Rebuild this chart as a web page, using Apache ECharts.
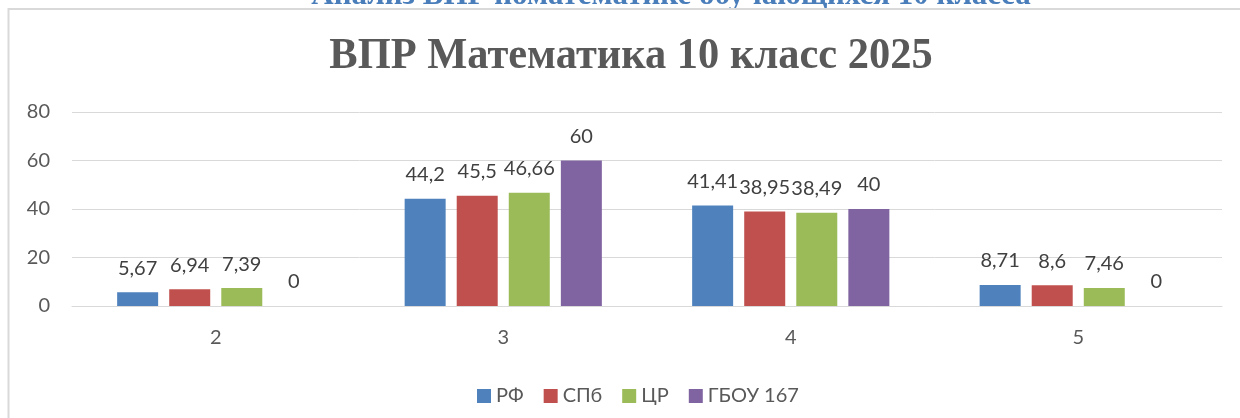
<!DOCTYPE html>
<html>
<head>
<meta charset="utf-8">
<title>ВПР Математика 10 класс 2025</title>
<script src="https://cdn.jsdelivr.net/npm/echarts@6/dist/echarts.min.js"></script>
<style>
  html, body { margin: 0; padding: 0; background: #ffffff; }
  #chart { width: 1240px; height: 418px; }
</style>
</head>
<body>
<div id="chart"></div>
<script>
// Grades (categories) and share of students per grade, %
const categories = ['2', '3', '4', '5'];
const seriesNames = ['РФ', 'СПб', 'ЦР', 'ГБОУ 167'];
const rf   = [5.67, 44.2, 41.41, 8.71];
const spb  = [6.94, 45.5, 38.95, 8.6];
const cr   = [7.39, 46.66, 38.49, 7.46];
const gbou = [0, 60, 40, 0];
const yTicks = [0, 20, 40, 60, 80];

const pageHeading = 'Анализ ВПР поматематике обучающихся 10 класса';
const chartTitle = 'ВПР Математика 10 класс 2025';

const colors = ['#4f81bd', '#c0504d', '#9bbb59', '#8064a2'];
const sansFont = 'Lato, "Open Sans", sans-serif';
const serifFont = '"Liberation Serif", "DejaVu Serif", serif';

const chart = echarts.init(document.getElementById('chart'), null, { renderer: 'canvas' });

const valueLabel = {
  show: true,
  position: 'top',
  distance: 14,
  color: '#404040',
  fontFamily: sansFont,
  fontSize: 20,
  formatter: p => String(p.value).replace('.', ',')
};

const values = [rf, spb, cr, gbou];

chart.setOption({
  animation: false,
  backgroundColor: '#ffffff',
  color: colors,
  graphic: [
    {
      // document heading above the chart frame; its lower part is hidden by the frame
      type: 'text',
      z: -20,
      style: {
        text: pageHeading,
        x: 671,
        y: -4,
        align: 'center',
        verticalAlign: 'middle',
        fill: '#4a7ebb',
        font: 'bold 31px ' + serifFont
      }
    },
    {
      // chart frame
      type: 'rect',
      z: -10,
      shape: { x: 8.5, y: 9, width: 1300, height: 500 },
      style: { fill: '#ffffff', stroke: '#d9d9d9', lineWidth: 2 }
    },
    {
      type: 'text',
      z: 5,
      x: 631,
      y: 57,
      scaleX: 0.965,
      style: {
        text: chartTitle,
        x: 0,
        y: 0,
        align: 'center',
        verticalAlign: 'middle',
        fill: '#595959',
        font: 'bold 44px ' + serifFont
      }
    }
  ],
  legend: {
    data: seriesNames,
    left: 472,
    top: 381,
    icon: 'rect',
    itemWidth: 14,
    itemHeight: 14,
    itemGap: 20,
    textStyle: { color: '#595959', fontFamily: sansFont, fontSize: 20 }
  },
  grid: { left: 72, right: 18, top: 112, bottom: 112, containLabel: false },
  xAxis: {
    type: 'category',
    data: categories,
    axisLine: { show: true, lineStyle: { color: '#d9d9d9', width: 1 } },
    axisTick: { show: false },
    axisLabel: { color: '#595959', fontFamily: sansFont, fontSize: 20, margin: 22 }
  },
  yAxis: {
    type: 'value',
    min: yTicks[0],
    max: yTicks[yTicks.length - 1],
    interval: yTicks[1] - yTicks[0],
    axisLine: { show: false },
    axisTick: { show: false },
    axisLabel: { color: '#595959', fontFamily: sansFont, fontSize: 20, margin: 22 },
    splitLine: { lineStyle: { color: '#d9d9d9', width: 1 } }
  },
  series: seriesNames.map((name, i) => ({
    name: name,
    type: 'bar',
    data: values[i],
    barWidth: 41,
    barGap: '27%',
    label: valueLabel,
    itemStyle: { color: colors[i] }
  }))
});
</script>
</body>
</html>
